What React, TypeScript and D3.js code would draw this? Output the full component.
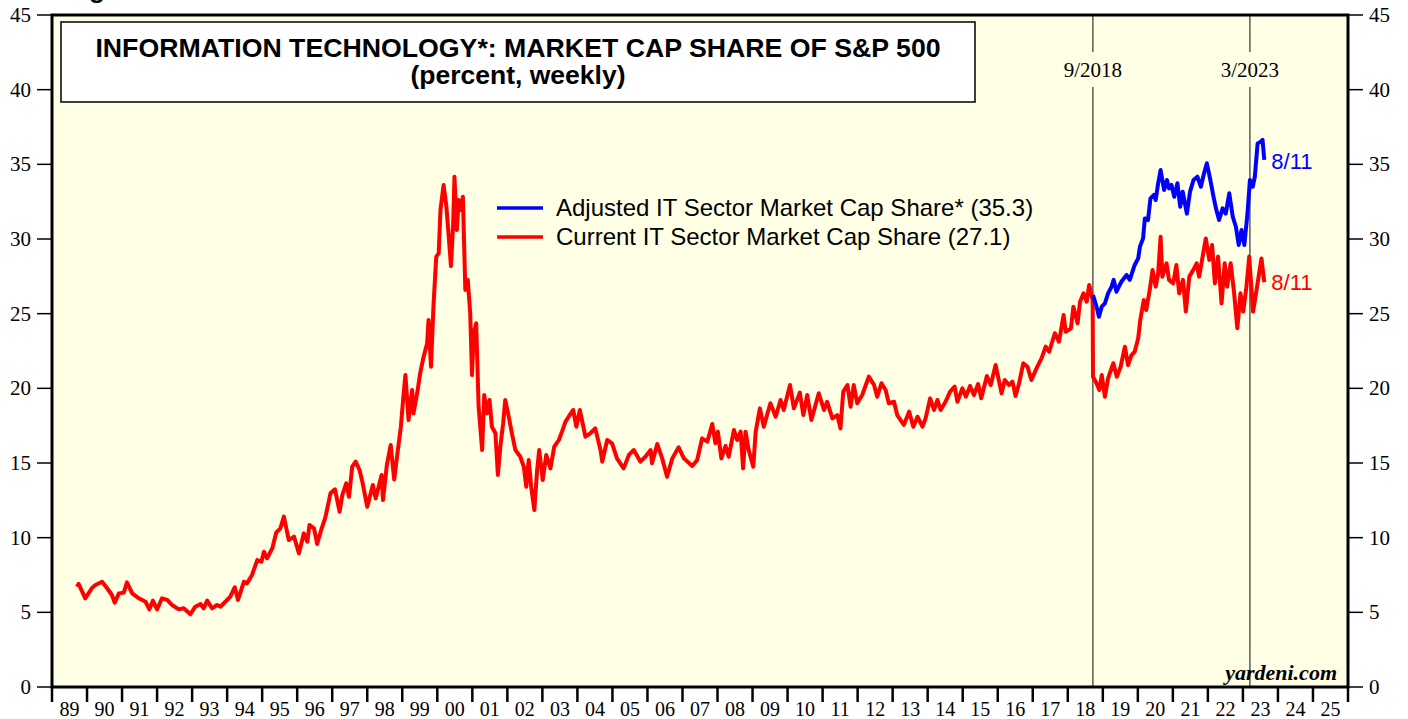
import * as d3 from "d3";

// decimal year, percent
const currentShare: [number, number][] = [
  [1989.71, 6.72], [1989.76, 6.9], [1989.95, 5.94], [1990.14, 6.63], [1990.24, 6.83],
  [1990.43, 7.05], [1990.57, 6.63], [1990.71, 6.16], [1990.79, 5.65], [1990.91, 6.27],
  [1991.05, 6.32], [1991.14, 7.01], [1991.29, 6.27], [1991.48, 5.94], [1991.67, 5.71],
  [1991.78, 5.2], [1991.88, 5.78], [1992.0, 5.2], [1992.14, 5.94], [1992.29, 5.83],
  [1992.43, 5.49], [1992.62, 5.2], [1992.76, 5.27], [1992.95, 4.87], [1993.09, 5.38],
  [1993.24, 5.56], [1993.33, 5.27], [1993.43, 5.78], [1993.57, 5.27], [1993.71, 5.49],
  [1993.81, 5.38], [1993.95, 5.71], [1994.09, 6.05], [1994.22, 6.68], [1994.31, 5.83],
  [1994.48, 7.05], [1994.57, 6.94], [1994.71, 7.5], [1994.86, 8.5], [1994.98, 8.39],
  [1995.05, 9.06], [1995.14, 8.62], [1995.29, 9.29], [1995.4, 10.33], [1995.52, 10.63],
  [1995.62, 11.41], [1995.76, 9.84], [1995.91, 10.07], [1996.05, 8.95], [1996.19, 10.29],
  [1996.29, 9.73], [1996.35, 10.85], [1996.48, 10.63], [1996.57, 9.58], [1996.67, 10.4],
  [1996.81, 11.41], [1996.95, 12.97], [1997.08, 13.24], [1997.21, 11.74], [1997.29, 12.86],
  [1997.4, 13.64], [1997.48, 12.74], [1997.57, 14.75], [1997.67, 15.09], [1997.78, 14.53],
  [1997.86, 13.75], [1998.0, 12.07], [1998.16, 13.53], [1998.24, 12.63], [1998.41, 14.2],
  [1998.45, 12.52], [1998.56, 14.87], [1998.67, 16.2], [1998.77, 13.9], [1998.85, 15.42],
  [1998.96, 17.43], [1999.04, 19.67], [1999.09, 20.89], [1999.18, 17.88], [1999.28, 19.89],
  [1999.32, 18.33], [1999.44, 19.89], [1999.51, 21.0], [1999.61, 22.12], [1999.71, 23.01],
  [1999.75, 24.58], [1999.82, 21.45], [1999.89, 25.47], [1999.97, 28.82], [2000.04, 29.04],
  [2000.09, 31.94], [2000.18, 33.62], [2000.26, 32.16], [2000.32, 30.38], [2000.39, 28.19],
  [2000.45, 30.82], [2000.49, 34.17], [2000.56, 30.6], [2000.61, 32.61], [2000.68, 31.94],
  [2000.73, 32.83], [2000.8, 26.59], [2000.87, 27.26], [2000.94, 25.02], [2000.99, 20.89],
  [2001.04, 23.69], [2001.11, 24.36], [2001.18, 18.77], [2001.28, 15.87], [2001.34, 19.55],
  [2001.42, 18.33], [2001.49, 19.22], [2001.56, 17.43], [2001.66, 16.99], [2001.73, 14.2],
  [2001.8, 16.09], [2001.88, 17.66], [2001.94, 19.22], [2002.04, 18.1], [2002.13, 16.99],
  [2002.23, 15.87], [2002.37, 15.42], [2002.47, 14.75], [2002.54, 13.41], [2002.61, 15.2],
  [2002.68, 13.41], [2002.77, 11.85], [2002.85, 14.53], [2002.91, 15.87], [2003.01, 13.86],
  [2003.11, 15.54], [2003.23, 14.64], [2003.34, 16.09], [2003.47, 16.54], [2003.56, 17.1],
  [2003.66, 17.77], [2003.75, 18.1], [2003.88, 18.55], [2003.97, 17.43], [2004.07, 18.55],
  [2004.23, 16.76], [2004.37, 16.99], [2004.51, 17.32], [2004.66, 15.87], [2004.71, 15.09],
  [2004.85, 16.54], [2004.99, 16.32], [2005.13, 15.31], [2005.32, 14.64], [2005.47, 15.54],
  [2005.61, 15.87], [2005.8, 15.09], [2005.94, 15.42], [2006.09, 15.87], [2006.13, 14.98],
  [2006.28, 16.27], [2006.42, 15.31], [2006.56, 14.08], [2006.71, 15.31], [2006.89, 16.05],
  [2007.04, 15.31], [2007.28, 14.8], [2007.42, 15.2], [2007.56, 16.65], [2007.71, 16.43],
  [2007.85, 17.61], [2007.94, 16.32], [2008.01, 17.1], [2008.11, 15.31], [2008.23, 16.14],
  [2008.32, 15.42], [2008.47, 17.21], [2008.56, 16.54], [2008.66, 17.1], [2008.73, 14.64],
  [2008.8, 17.1], [2008.89, 15.87], [2009.02, 14.75], [2009.09, 17.1], [2009.21, 18.66],
  [2009.32, 17.43], [2009.51, 19.0], [2009.66, 18.1], [2009.8, 19.22], [2009.89, 18.55],
  [2010.07, 20.22], [2010.18, 18.66], [2010.35, 19.71], [2010.45, 18.21], [2010.56, 19.55],
  [2010.68, 17.88], [2010.89, 19.67], [2011.04, 18.55], [2011.13, 19.1], [2011.28, 17.99],
  [2011.42, 18.21], [2011.51, 17.32], [2011.59, 19.78], [2011.71, 20.22], [2011.8, 18.77],
  [2011.89, 20.22], [2011.99, 19.0], [2012.13, 19.55], [2012.32, 20.78], [2012.47, 20.22],
  [2012.56, 19.44], [2012.68, 20.34], [2012.8, 19.89], [2012.89, 19.0], [2013.04, 19.1],
  [2013.13, 18.21], [2013.32, 17.55], [2013.47, 18.44], [2013.59, 17.43], [2013.71, 18.1],
  [2013.85, 17.43], [2013.94, 17.99], [2014.07, 19.33], [2014.18, 18.55], [2014.28, 19.22],
  [2014.37, 18.55], [2014.51, 19.1], [2014.64, 19.78], [2014.77, 20.11], [2014.85, 19.1],
  [2014.99, 20.0], [2015.09, 19.44], [2015.21, 20.16], [2015.32, 19.55], [2015.44, 20.29],
  [2015.53, 19.33], [2015.69, 20.83], [2015.8, 20.22], [2015.94, 21.56], [2016.01, 20.78],
  [2016.11, 19.67], [2016.2, 20.56], [2016.32, 20.22], [2016.42, 20.45], [2016.51, 19.49],
  [2016.61, 20.34], [2016.73, 21.68], [2016.85, 21.45], [2016.96, 20.56], [2017.13, 21.45],
  [2017.25, 22.01], [2017.37, 22.79], [2017.47, 22.45], [2017.63, 23.69], [2017.75, 23.12],
  [2017.88, 24.91], [2017.94, 23.79], [2018.09, 24.02], [2018.16, 25.47], [2018.28, 24.36],
  [2018.35, 25.8], [2018.45, 26.36], [2018.54, 25.8], [2018.61, 26.92], [2018.71, 25.92],
  [2018.72, 20.78], [2018.82, 20.34], [2018.9, 19.89], [2018.97, 20.89], [2019.06, 19.44],
  [2019.15, 20.67], [2019.3, 21.68], [2019.4, 20.78], [2019.51, 21.45], [2019.63, 22.79],
  [2019.72, 21.56], [2019.82, 22.23], [2019.91, 22.45], [2020.01, 23.35], [2020.07, 24.58],
  [2020.17, 25.92], [2020.24, 25.25], [2020.34, 26.59], [2020.42, 27.92], [2020.51, 26.81],
  [2020.58, 27.7], [2020.65, 30.15], [2020.7, 27.48], [2020.82, 28.37], [2020.89, 27.26],
  [2021.01, 27.03], [2021.1, 28.26], [2021.18, 26.36], [2021.29, 27.26], [2021.37, 25.14],
  [2021.47, 27.48], [2021.58, 27.92], [2021.68, 28.37], [2021.75, 27.48], [2021.85, 28.82],
  [2021.94, 30.04], [2022.04, 28.6], [2022.12, 29.6], [2022.2, 27.03], [2022.29, 28.82],
  [2022.39, 25.69], [2022.48, 28.37], [2022.55, 26.81], [2022.65, 28.37], [2022.74, 26.59],
  [2022.84, 24.02], [2022.93, 26.36], [2023.01, 25.14], [2023.1, 26.81], [2023.18, 28.82],
  [2023.29, 25.14], [2023.39, 26.6], [2023.53, 28.7], [2023.61, 27.1],
];

const adjustedShare: [number, number][] = [
  [2018.72, 26.25], [2018.82, 25.47], [2018.89, 24.8], [2018.97, 25.47], [2019.06, 25.69],
  [2019.15, 26.36], [2019.25, 26.81], [2019.31, 27.26], [2019.39, 26.47], [2019.53, 27.14],
  [2019.68, 27.59], [2019.77, 27.26], [2019.91, 28.26], [2020.01, 28.7], [2020.06, 29.49],
  [2020.15, 30.04], [2020.2, 31.38], [2020.29, 31.27], [2020.36, 32.72], [2020.46, 32.95],
  [2020.51, 32.61], [2020.58, 33.73], [2020.65, 34.62], [2020.75, 33.28], [2020.83, 33.95],
  [2020.89, 33.39], [2020.96, 33.62], [2021.04, 32.83], [2021.13, 33.73], [2021.21, 32.16],
  [2021.28, 33.17], [2021.4, 31.7], [2021.49, 33.17], [2021.59, 33.95], [2021.7, 34.17],
  [2021.8, 33.5], [2021.89, 34.4], [2021.97, 35.07], [2022.07, 33.95], [2022.16, 32.83],
  [2022.23, 32.05], [2022.32, 31.27], [2022.42, 32.05], [2022.51, 31.7], [2022.61, 33.06],
  [2022.71, 31.49], [2022.8, 30.82], [2022.88, 29.6], [2022.96, 30.6], [2023.04, 29.6],
  [2023.13, 31.7], [2023.2, 33.95], [2023.28, 33.5], [2023.34, 34.17], [2023.42, 36.4],
  [2023.51, 36.52], [2023.56, 36.63], [2023.61, 35.3],
];

const yTicks = [0, 5, 10, 15, 20, 25, 30, 35, 40, 45];
const yearTicks = d3.range(1989, 2027);
const eventLines = [
  { at: 2018.717, label: "9/2018" },
  { at: 2023.2, label: "3/2023" },
];
const legendItems = [
  { name: "Adjusted IT Sector Market Cap Share* (35.3)", color: "#0000ff" },
  { name: "Current IT Sector Market Cap Share (27.1)", color: "#ff0000" },
];
const endLabel = "8/11";

const W = 1408, H = 719;
const left = 52, right = 1348, top = 15, bottom = 687;
const serif = "'Liberation Serif', 'Times New Roman', serif";
const sans = "'Liberation Sans', Arial, sans-serif";

export default function App() {
  const x = d3.scaleLinear().domain([1989, 2026]).range([left, right]);
  const y = d3.scaleLinear().domain([0, 45]).range([bottom, top]);
  const line = d3.line<[number, number]>().x(d => x(d[0])).y(d => y(d[1]));
  const lastCur = currentShare[currentShare.length - 1];
  const lastAdj = adjustedShare[adjustedShare.length - 1];

  return (
    <svg width={W} height={H} style={{ position: "absolute", left: 0, top: 0, background: "#fff" }}>
      <text x={89} y={-2} fontFamily={sans} fontWeight="bold" fontSize={26}>g</text>
      <rect x={left} y={top} width={right - left} height={bottom - top} fill="#ffffe6" />

      {/* event lines */}
      {eventLines.map(e => (
        <g key={e.label}>
          <line x1={x(e.at)} x2={x(e.at)} y1={top} y2={52} stroke="#333" strokeWidth={1.2} />
          <line x1={x(e.at)} x2={x(e.at)} y1={87} y2={bottom} stroke="#333" strokeWidth={1.2} />
          <text x={x(e.at)} y={77} textAnchor="middle" fontFamily={serif} fontSize={21}>{e.label}</text>
        </g>
      ))}

      {/* title box */}
      <rect x={61} y={22} width={914} height={80} fill="#fff" stroke="#000" strokeWidth={1.5} />
      <text x={518} y={57} textAnchor="middle" fontFamily={sans} fontWeight="bold" fontSize={26.7}>
        INFORMATION TECHNOLOGY*: MARKET CAP SHARE OF S&amp;P 500
      </text>
      <text x={518} y={84} textAnchor="middle" fontFamily={sans} fontWeight="bold" fontSize={26.5}>
        (percent, weekly)
      </text>

      {/* series */}
      <path d={line(currentShare) ?? ""} fill="none" stroke="#ff0000" strokeWidth={4} strokeLinejoin="round" />
      <path d={line(adjustedShare) ?? ""} fill="none" stroke="#0000ff" strokeWidth={4} strokeLinejoin="round" />
      <text x={x(lastAdj[0]) + 7} y={y(lastAdj[1]) + 9} fontFamily={sans} fontSize={22} fill="#0000ff">{endLabel}</text>
      <text x={x(lastCur[0]) + 7} y={y(lastCur[1]) + 8} fontFamily={sans} fontSize={22} fill="#ff0000">{endLabel}</text>

      {/* legend */}
      {legendItems.map((d, i) => (
        <g key={d.name} transform={`translate(497,${208 + i * 29})`}>
          <line x1={0} x2={46} y1={0} y2={0} stroke={d.color} strokeWidth={3.5} />
          <text x={59} y={8} fontFamily={sans} fontSize={24}>{d.name}</text>
        </g>
      ))}

      <text x={1337} y={680} textAnchor="end" fontFamily={serif} fontStyle="italic" fontWeight="bold" fontSize={22}>yardeni.com</text>

      {/* frame */}
      <rect x={left} y={top} width={right - left} height={bottom - top} fill="none" stroke="#000" strokeWidth={3} />

      {/* y axes */}
      {yTicks.map(t => (
        <g key={t}>
          <line x1={37} x2={left} y1={y(t)} y2={y(t)} stroke="#000" strokeWidth={1.5} />
          <text x={31} y={y(t) + 7} textAnchor="end" fontFamily={serif} fontSize={21}>{t}</text>
          <line x1={right} x2={1363} y1={y(t)} y2={y(t)} stroke="#000" strokeWidth={1.5} />
          <text x={1369} y={y(t) + 7} fontFamily={serif} fontSize={21}>{t}</text>
        </g>
      ))}

      {/* x axis */}
      {yearTicks.map(yr => (
        <g key={yr}>
          <line x1={x(yr)} x2={x(yr)} y1={bottom} y2={702} stroke="#000" strokeWidth={2.5} />
          {yr < 2026 && (
            <text x={x(yr + 0.5)} y={716} textAnchor="middle" fontFamily={serif} fontSize={20}>
              {String(yr % 100).padStart(2, "0")}
            </text>
          )}
        </g>
      ))}
    </svg>
  );
}
